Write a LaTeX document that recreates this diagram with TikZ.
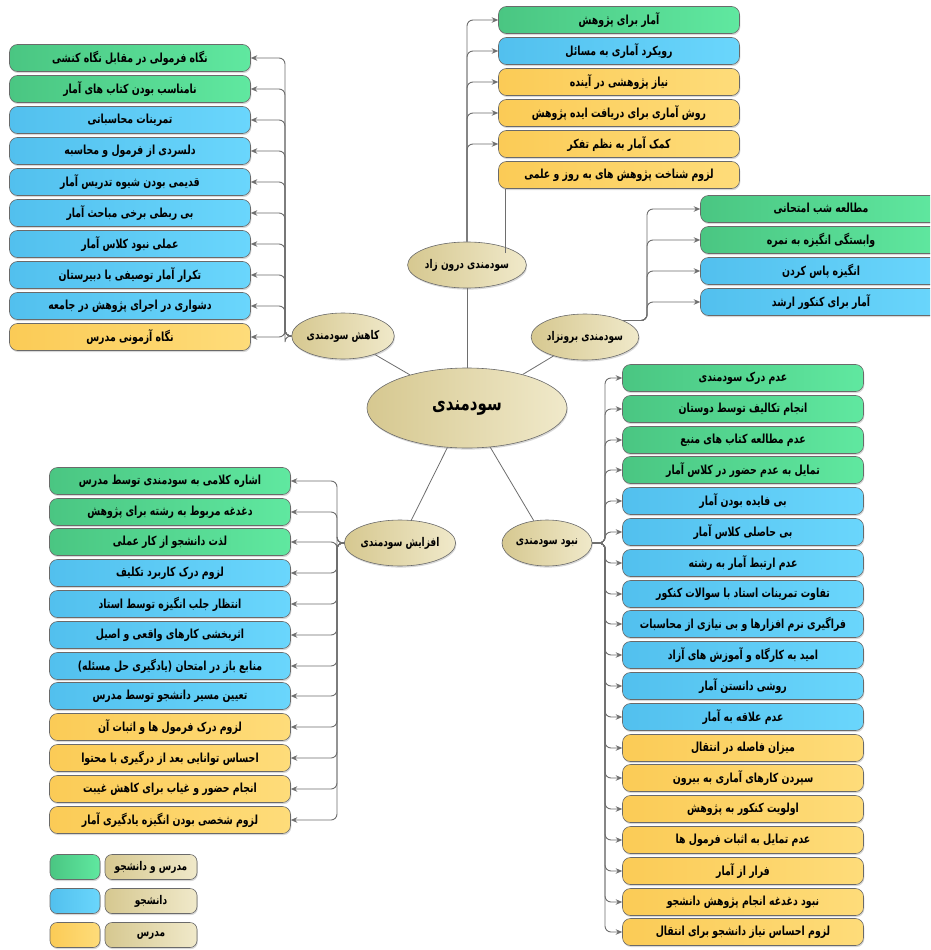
\documentclass[tikz,border=0pt]{standalone}
\usepackage{fontspec}
\TeXXeTstate=1
\newfontfamily\fa[Script=Arabic,FakeStretch=0.75]{DejaVu Sans}
\usetikzlibrary{shapes.geometric,arrows.meta,shadows}
\definecolor{gL}{HTML}{4AC682}
\definecolor{gR}{HTML}{60E8A0}
\definecolor{bL}{HTML}{52C0EE}
\definecolor{bR}{HTML}{6AD6FC}
\definecolor{yL}{HTML}{FBCB56}
\definecolor{yR}{HTML}{FEDC7A}
\definecolor{eL}{HTML}{D6C890}
\definecolor{eR}{HTML}{F0E9CA}
\definecolor{edge}{HTML}{6A6A6A}
\definecolor{lnc}{HTML}{6E6E6E}
\tikzset{
  rtl/.style={execute at begin node=\beginR, execute at end node=\endR},
  box/.style={draw=edge, line width=0.6pt, rounded corners=8pt,
    minimum width=241pt, minimum height=27pt, inner sep=0pt,
    font=\fa\bfseries\fontsize{12.5}{14}\selectfont, rtl,
    drop shadow={shadow xshift=0.8pt, shadow yshift=-1.6pt, fill=black!30}},
  gbox/.style={box, left color=gL, right color=gR},
  bbox/.style={box, left color=bL, right color=bR},
  ybox/.style={box, left color=yL, right color=yR},
  subell/.style={ellipse, draw=edge, line width=0.6pt, left color=eL, right color=eR,
    minimum width=90pt, minimum height=46pt, inner sep=0pt,
    font=\fa\bfseries\fontsize{12}{14}\selectfont, rtl,
    drop shadow={shadow xshift=0.8pt, shadow yshift=-1.6pt, fill=black!30}},
  mainell/.style={subell, minimum width=200pt, minimum height=80pt,
    font=\fa\bfseries\fontsize{20}{24}\selectfont},
  legbox/.style={draw=edge, line width=0.6pt, rounded corners=7pt,
    minimum width=92pt, minimum height=25pt, inner sep=0pt, left color=eL, right color=eR,
    font=\fa\bfseries\fontsize{12}{14}\selectfont, rtl,
    drop shadow={shadow xshift=0.8pt, shadow yshift=-1.6pt, fill=black!30}},
  colbox/.style={minimum width=50pt, minimum height=25pt, rounded corners=7pt},
  conn/.style={draw=lnc, line width=0.9pt, rounded corners=6pt,
    -{Stealth[length=6.5pt,width=5.5pt]}},
  link/.style={draw=lnc, line width=0.8pt},
}
\newcommand\bx[5]{\node[#2] (#1) at (#3,#4) {#5};}
\begin{document}
\begin{tikzpicture}[x=1pt,y=-1pt]
\clip (0,0) rectangle (930,950);
\fill[white] (0,0) rectangle (930,950);

% ellipses
\node[mainell] (C) at (467,408) {سودمندی};
\node[subell] (K) at (343,336) {کاهش سودمندی};
\node[subell] (D) at (467,265) {سودمندی درون زاد};
\node[subell] (B) at (585,337) {سودمندی برونزاد};
\node[subell] (A) at (400,543) {افزایش سودمندی};
\node[subell] (N) at (547,543) {نبود سودمندی};

\draw[link] (C) -- (K);
\draw[link] (C) -- (D);
\draw[link] (C) -- (B);
\draw[link] (C) -- (A);
\draw[link] (C) -- (N);

% top-left list
\bx{K1}{gbox}{130}{58}{نگاه فرمولی در مقابل نگاه کنشی}
\bx{K2}{gbox}{130}{89}{نامناسب بودن کتاب های آمار}
\bx{K3}{bbox}{130}{120}{تمرینات محاسباتی}
\bx{K4}{bbox}{130}{151}{دلسردی از فرمول و محاسبه}
\bx{K5}{bbox}{130}{182}{قدیمی بودن شیوه تدریس آمار}
\bx{K6}{bbox}{130}{213}{بی ربطی برخی مباحث آمار}
\bx{K7}{bbox}{130}{244}{عملی نبود کلاس آمار}
\bx{K8}{bbox}{130}{275}{تکرار آمار توصیفی با دبیرستان}
\bx{K9}{bbox}{130}{306}{دشواری در اجرای پژوهش در جامعه}
\bx{K10}{ybox}{130}{337}{نگاه آزمونی مدرس}

% top-center list
\bx{T1}{gbox}{619}{20}{آمار برای پژوهش}
\bx{T2}{bbox}{619}{51}{رویکرد آماری به مسائل}
\bx{T3}{ybox}{619}{82}{نیاز پژوهشی در آینده}
\bx{T4}{ybox}{619}{113}{روش آماری برای دریافت ایده پژوهش}
\bx{T5}{ybox}{619}{144}{کمک آمار به نظم تفکر}
\bx{T6}{ybox}{619}{175}{لزوم شناخت پژوهش های به روز و علمی}

% right-top list
\bx{P1}{gbox}{821}{209}{مطالعه شب امتحانی}
\bx{P2}{gbox}{821}{240}{وابستگی انگیزه به نمره}
\bx{P3}{bbox}{821}{271}{انگیزه پاس کردن}
\bx{P4}{bbox}{821}{302}{آمار برای کنکور ارشد}

% right big list
\bx{R1}{gbox}{743}{378}{عدم درک سودمندی}
\bx{R2}{gbox}{743}{409}{انجام تکالیف توسط دوستان}
\bx{R3}{gbox}{743}{440}{عدم مطالعه کتاب های منبع}
\bx{R4}{gbox}{743}{470}{تمایل به عدم حضور در کلاس آمار}
\bx{R5}{bbox}{743}{501}{بی فایده بودن آمار}
\bx{R6}{bbox}{743}{532}{بی حاصلی کلاس آمار}
\bx{R7}{bbox}{743}{563}{عدم ارتبط آمار به رشته}
\bx{R8}{bbox}{743}{594}{تفاوت تمرینات استاد با سوالات کنکور}
\bx{R9}{bbox}{743}{624}{فراگیری نرم افزارها و بی نیازی از محاسبات}
\bx{R10}{bbox}{743}{655}{امید به کارگاه و آموزش های آزاد}
\bx{R11}{bbox}{743}{686}{روشی دانستن آمار}
\bx{R12}{bbox}{743}{717}{عدم علاقه به آمار}
\bx{R13}{ybox}{743}{748}{میزان فاصله در انتقال}
\bx{R14}{ybox}{743}{778}{سپردن کارهای آماری به بیرون}
\bx{R15}{ybox}{743}{809}{اولویت کنکور به پژوهش}
\bx{R16}{ybox}{743}{840}{عدم تمایل به اثبات فرمول ها}
\bx{R17}{ybox}{743}{871}{فرار از آمار}
\bx{R18}{ybox}{743}{902}{نبود دغدغه انجام پژوهش دانشجو}
\bx{R19}{ybox}{743}{932}{لزوم احساس نیاز دانشجو برای انتقال}

% left-bottom list
\bx{L1}{gbox}{170}{481}{اشاره کلامی به سودمندی توسط مدرس}
\bx{L2}{gbox}{170}{512}{دغدغه مربوط به رشته برای پژوهش}
\bx{L3}{gbox}{170}{542}{لذت دانشجو از کار عملی}
\bx{L4}{bbox}{170}{573}{لزوم درک کاربرد تکلیف}
\bx{L5}{bbox}{170}{604}{انتظار جلب انگیزه توسط استاد}
\bx{L6}{bbox}{170}{635}{اثربخشی کارهای واقعی و اصیل}
\bx{L7}{bbox}{170}{666}{منابع باز در امتحان (یادگیری حل مسئله)}
\bx{L8}{bbox}{170}{696}{تعیین مسیر دانشجو توسط مدرس}
\bx{L9}{ybox}{170}{727}{لزوم درک فرمول ها و اثبات آن}
\bx{L10}{ybox}{170}{758}{احساس توانایی بعد از درگیری با محتوا}
\bx{L11}{ybox}{170}{789}{انجام حضور و غیاب برای کاهش غیبت}
\bx{L12}{ybox}{170}{820}{لزوم شخصی بودن انگیزه یادگیری آمار}

% legend
\node[gbox, colbox] (G1) at (75,867) {};
\node[bbox, colbox] (G2) at (75,901) {};
\node[ybox, colbox] (G3) at (75,935) {};
\node[legbox] (H1) at (151,867) {مدرس و دانشجو};
\node[legbox] (H2) at (151,901) {دانشجو};
\node[legbox] (H3) at (151,935) {مدرس};

% bus coordinates
\coordinate (kb) at (285,0);
\coordinate (pb) at (647,0);
\coordinate (nb) at (605,0);
\coordinate (ab) at (337,0);
\coordinate (dl) at (505,253);

\foreach \i in {1,...,10} \draw[conn] (K.west) -- (K.west -| kb) |- (K\i.east);
\foreach \i in {1,...,5} \draw[conn] (D.north) |- (T\i.west);
\draw[link] (dl) -- (T6.south -| dl);
\foreach \i in {1,...,4} \draw[conn] (B.north east) -- (B.north east -| pb) |- (P\i.west);
\foreach \i in {1,...,19} \draw[conn] (N.east) -- (N.east -| nb) |- (R\i.west);
\foreach \i in {1,...,12} \draw[conn] (A.west) -- (A.west -| ab) |- (L\i.east);
\end{tikzpicture}
\end{document}
